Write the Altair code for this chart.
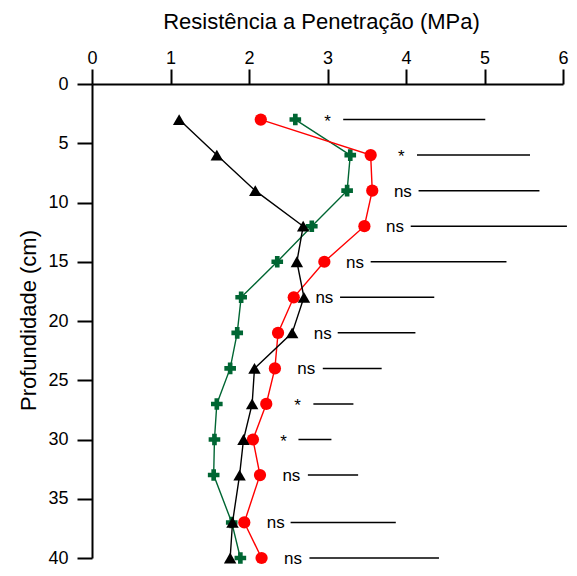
import altair as alt
import pandas as pd

# Depths (cm)
depth = [3, 6, 9, 12, 15, 18, 21, 24, 27, 30, 33, 37, 40]

# Penetration resistance (MPa) for the three series
red_vals = [2.15, 3.55, 3.57, 3.47, 2.96, 2.57, 2.37, 2.33, 2.22, 2.05, 2.14, 1.94, 2.16]
green_vals = [2.59, 3.29, 3.25, 2.80, 2.36, 1.90, 1.85, 1.76, 1.59, 1.56, 1.55, 1.78, 1.89]
black_vals = [1.11, 1.59, 2.08, 2.69, 2.61, 2.70, 2.55, 2.07, 2.04, 1.93, 1.88, 1.79, 1.76]

# Significance annotations
sig = ["*", "*", "ns", "ns", "ns", "ns", "ns", "ns", "*", "*", "ns", "ns", "ns"]
sig_x = [3.00, 3.94, 3.96, 3.86, 3.35, 2.96, 2.94, 2.73, 2.62, 2.44, 2.54, 2.34, 2.56]
line_start = [3.20, 4.14, 4.16, 4.06, 3.55, 3.16, 3.13, 2.94, 2.82, 2.63, 2.75, 2.53, 2.77]
line_end = [5.01, 5.58, 5.70, 6.05, 5.28, 4.36, 4.12, 3.69, 3.33, 3.05, 3.39, 3.87, 4.42]

x_ticks = [i * 0.5 for i in range(13)]
y_ticks = [i * 2.5 for i in range(17)]

GREEN = "#006633"
FONT = "Liberation Sans"

x_enc = alt.X(
    "v:Q",
    scale=alt.Scale(domain=[0, 6], nice=False, zero=False),
    axis=alt.Axis(
        orient="top",
        values=x_ticks,
        labelExpr="datum.value % 1 === 0 ? '' + datum.value : ''",
        tickSize={"condition": {"test": "datum.value % 1 === 0", "value": 15}, "value": 8},
        tickWidth=2,
        domainWidth=2,
        tickColor="black",
        domainColor="black",
        labelFontSize=18,
        labelColor="black",
        labelPadding=2,
        labelOverlap=False,
        labelFlush=False,
        grid=False,
        title="Resistência a Penetração (MPa)",
        titleFontSize=22,
        titleFontWeight="normal",
        titleColor="black",
        titleX=229,
        titleY=-56,
        titleBaseline="alphabetic",
        titleAlign="center",
    ),
)

y_enc = alt.Y(
    "d:Q",
    scale=alt.Scale(domain=[0, 40], nice=False, reverse=True, zero=False),
    axis=alt.Axis(
        values=y_ticks,
        labelExpr="datum.value % 5 === 0 ? '' + datum.value : ''",
        tickSize={"condition": {"test": "datum.value % 5 === 0", "value": 15}, "value": 8},
        tickWidth=2,
        domainWidth=2,
        tickColor="black",
        domainColor="black",
        labelFontSize=18,
        labelColor="black",
        labelPadding=9,
        labelOverlap=False,
        labelFlush=False,
        grid=False,
        title="Profundidade (cm)",
        titleFontSize=22,
        titleFontWeight="normal",
        titleColor="black",
        titleX=-57,
        titleY=236,
        titleAngle=270,
        titleBaseline="alphabetic",
        titleAlign="center",
    ),
)


def series(vals, color, shape, size):
    df = pd.DataFrame({"d": depth, "v": vals})
    base = alt.Chart(df)
    line = base.mark_line(color=color, strokeWidth=1.4).encode(x=x_enc, y=y_enc, order="d:Q")
    pts = base.mark_point(shape=shape, filled=True, size=size, color=color, opacity=1).encode(
        x=x_enc, y=y_enc
    )
    return [line, pts]


ann = pd.DataFrame({"d": depth, "sig": sig, "sx": sig_x, "x1": line_start, "x2": line_end})
ann_base = alt.Chart(ann)
xs = alt.Scale(domain=[0, 6], nice=False)
ys = alt.Scale(domain=[0, 40], nice=False, reverse=True)
rules = ann_base.mark_rule(color="black", strokeWidth=1.5).encode(
    x=alt.X("x1:Q", scale=xs),
    x2="x2:Q",
    y=alt.Y("d:Q", scale=ys),
)
txt_ns = ann_base.transform_filter("datum.sig === 'ns'").mark_text(
    align="center", baseline="middle", fontSize=17, color="black", dy=1
).encode(
    x=alt.X("sx:Q", scale=xs),
    y=alt.Y("d:Q", scale=ys),
    text="sig:N",
)
txt_star = ann_base.transform_filter("datum.sig === '*'").mark_text(
    align="center", baseline="middle", fontSize=17, color="black", dy=2
).encode(
    x=alt.X("sx:Q", scale=xs),
    y=alt.Y("d:Q", scale=ys),
    text="sig:N",
)

layers = (
    series(green_vals, GREEN, "cross", 135)
    + series(red_vals, "#FF0000", "circle", 150)
    + series(black_vals, "black", "triangle-up", 155)
    + [rules, txt_ns, txt_star]
)

chart = (
    alt.layer(*layers)
    .properties(
        width=471,
        height=474,
        autosize=alt.AutoSizeParams(type="none"),
        padding={"left": 84, "top": 76, "right": 6, "bottom": 9},
    )
    .configure(font=FONT)
    .configure_view(stroke=None)
)

chart.save("out.html", embed_options={"renderer": "svg", "actions": False})
